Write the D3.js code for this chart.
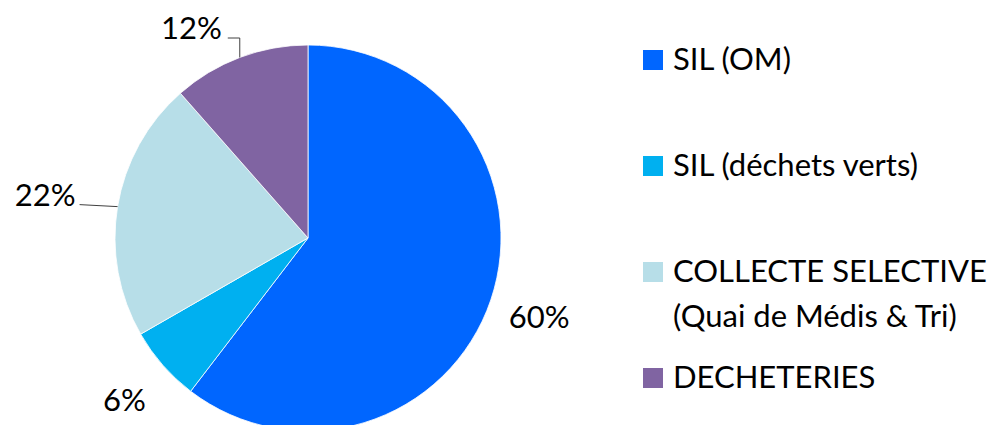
<!DOCTYPE html>
<html><head><meta charset="utf-8">
<script src="https://cdn.jsdelivr.net/npm/d3@7"></script>
<style>body{margin:0;background:#fff}svg{display:block}text{font-family:Lato,"Liberation Sans",Arial,sans-serif;fill:#000}</style>
</head><body><svg id="c" width="1001" height="425"></svg>
<script>
const categories = ["SIL (OM)", "SIL (déchets verts)", "COLLECTE SELECTIVE|(Quai de Médis & Tri)", "DECHETERIES"];
const values = [60.4, 6.3, 21.8, 11.5];
const colors = ["#0066FF", "#00B0F0", "#B7DEE8", "#8064A2"];

const svg = d3.select("#c");
const cx = 308, cy = 238, R = 193;
const total = d3.sum(values);
const pie = d3.pie().sort(null).value(d => d)(values);
const arc = d3.arc().innerRadius(0).outerRadius(R);
const g = svg.append("g").attr("transform", `translate(${cx},${cy})`);
g.selectAll("path").data(pie).join("path")
  .attr("d", arc).attr("fill", (d, i) => colors[i])
  .attr("stroke", "#fff").attr("stroke-width", 0.8);

const fs = 31;
pie.forEach((d, i) => {
  const a = (d.startAngle + d.endAngle) / 2;
  const pct = Math.round(d.value / total * 100) + "%";
  const ex = R * Math.sin(a), ey = -R * Math.cos(a);
  if (i === 0 || i === 1) {
    const r2 = 244;
    g.append("text").attr("x", r2 * Math.sin(a)).attr("y", -r2 * Math.cos(a))
      .attr("text-anchor", "middle").attr("dominant-baseline", "central")
      .attr("font-size", fs).text(pct);
  } else if (i === 2) {
    const x2 = ex - 38;
    g.append("path").attr("d", `M${ex},${ey}L${x2},${ey - 2}`)
      .attr("stroke", "#404040").attr("fill", "none").attr("stroke-width", 1);
    g.append("text").attr("x", x2 - 4).attr("y", ey - 2 + 1)
      .attr("text-anchor", "end").attr("font-size", fs).text(pct);
  } else {
    const y2 = -200;
    const x2 = ex - 12;
    g.append("path").attr("d", `M${ex},${ey}L${ex},${y2}L${x2},${y2}`)
      .attr("stroke", "#404040").attr("fill", "none").attr("stroke-width", 1);
    g.append("text").attr("x", x2 - 6).attr("y", y2 + 1)
      .attr("text-anchor", "end").attr("font-size", fs).text(pct);
  }
});

const leg = svg.append("g");
const legY = d3.scaleLinear().domain([0, 3]).range([60, 378]);
categories.forEach((c, i) => {
  const y = legY(i);
  leg.append("rect").attr("x", 643).attr("y", y - 10).attr("width", 20).attr("height", 20).attr("fill", colors[i]);
  c.split("|").forEach((line, j) => {
    leg.append("text").attr("x", 673).attr("y", y + 10 + j * 45).attr("font-size", fs).text(line);
  });
});
</script></body></html>
